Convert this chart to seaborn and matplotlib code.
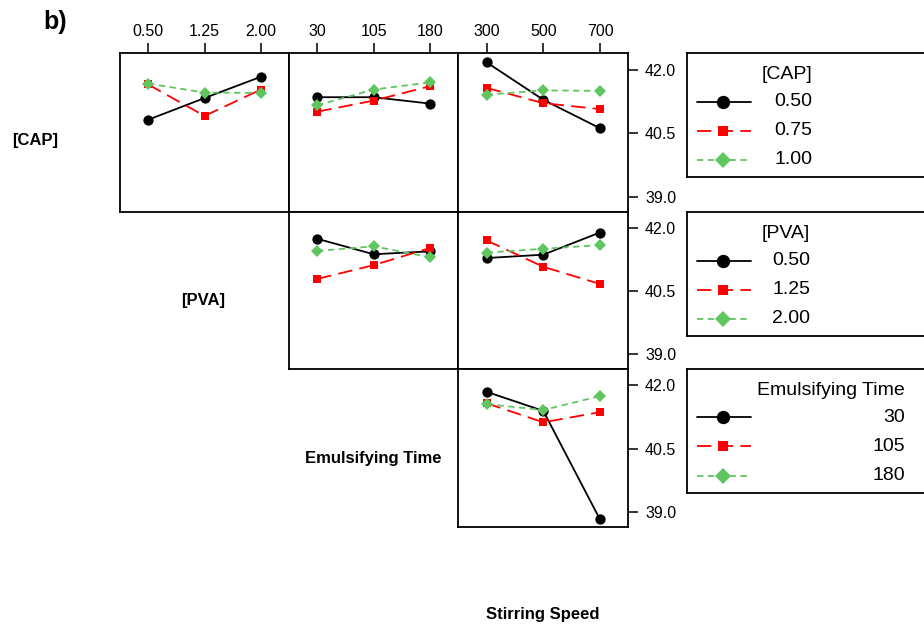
import numpy as np
import pandas as pd
import matplotlib
matplotlib.use("Agg")
import matplotlib.pyplot as plt
from matplotlib.lines import Line2D
import seaborn as sns

# factor levels
cap_levels = ["0.50", "0.75", "1.00"]
pva_levels = ["0.50", "1.25", "2.00"]
time_levels = ["30", "105", "180"]
speed_levels = ["300", "500", "700"]

# mean response: one row per line-factor level, one column per x-factor level
cap_vs_pva = [[40.82, 41.33, 41.83],
              [41.65, 40.91, 41.53],
              [41.67, 41.46, 41.45]]
cap_vs_time = [[41.35, 41.35, 41.20],
               [41.01, 41.27, 41.61],
               [41.16, 41.53, 41.70]]
cap_vs_speed = [[42.17, 41.29, 40.62],
                [41.57, 41.21, 41.07],
                [41.41, 41.51, 41.50]]
pva_vs_time = [[41.75, 41.38, 41.45],
               [40.79, 41.12, 41.53],
               [41.46, 41.57, 41.31]]
pva_vs_speed = [[41.29, 41.37, 41.90],
                [41.71, 41.08, 40.67],
                [41.42, 41.51, 41.60]]
time_vs_speed = [[41.84, 41.39, 38.83],
                 [41.57, 41.12, 41.36],
                 [41.55, 41.41, 41.74]]

y_ticks = [39.0, 40.5, 42.0]

sns.set_theme(style="ticks")
plt.rcParams["font.family"] = ["Liberation Sans", "DejaVu Sans"]
plt.rcParams["text.color"] = "black"
plt.rcParams["xtick.color"] = "black"
plt.rcParams["ytick.color"] = "black"
plt.rcParams["xtick.labelcolor"] = "black"
plt.rcParams["ytick.labelcolor"] = "black"

W, H = 924, 635
fig = plt.figure(figsize=(W / 100, H / 100), dpi=100)


def px_axes(x0, y0, x1, y1):
    return fig.add_axes([x0 / W, 1 - y1 / H, (x1 - x0) / W, (y1 - y0) / H])


colors = ["black", "#ff0000", "#5fc65f"]
markers = ["o", "s", "D"]
styles = ["-", (0, (8, 4)), (0, (3.5, 2.5))]
msizes = [7.4, 6.0, 6.0]
line_w = 1.3
spine_lw = 1.3

col_x = [(120, 289), (289, 458.3), (458.3, 628.3)]
row_y = [(53, 212), (212, 368.5), (368.5, 527)]

panels = [
    (0, 0, cap_levels, pva_levels, cap_vs_pva),
    (0, 1, cap_levels, time_levels, cap_vs_time),
    (0, 2, cap_levels, speed_levels, cap_vs_speed),
    (1, 1, pva_levels, time_levels, pva_vs_time),
    (1, 2, pva_levels, speed_levels, pva_vs_speed),
    (2, 2, time_levels, speed_levels, time_vs_speed),
]

for r, c, hue_lv, x_lv, vals in panels:
    ax = px_axes(col_x[c][0], row_y[r][0], col_x[c][1], row_y[r][1])
    df = pd.DataFrame({
        "x": np.tile(x_lv, len(hue_lv)),
        "hue": np.repeat(hue_lv, len(x_lv)),
        "y": np.ravel(vals),
    })
    sns.pointplot(data=df, x="x", y="y", hue="hue", order=x_lv, hue_order=hue_lv,
                  palette=colors, markers=markers, linestyles=styles,
                  errorbar=None, legend=False, linewidth=line_w,
                  markeredgewidth=0, ax=ax)
    for line, ms in zip(ax.lines, msizes):
        line.set_markersize(ms)

    ax.set_xlim(-0.5, 2.5)
    ax.set_ylim(38.65, 42.39)
    ax.set_xlabel("")
    ax.set_ylabel("")
    for sp in ax.spines.values():
        sp.set_visible(True)
        sp.set_linewidth(spine_lw)
        sp.set_color("black")

    if r == 0:
        ax.xaxis.tick_top()
        ax.tick_params(axis="x", top=True, bottom=False, labeltop=True,
                       labelbottom=False, direction="out", length=7,
                       width=1.1, labelsize=11.5, pad=3)
    else:
        ax.tick_params(axis="x", top=False, bottom=False,
                       labeltop=False, labelbottom=False)

    if c == 2:
        ax.yaxis.tick_right()
        ax.set_yticks(y_ticks)
        ax.set_yticklabels([f"{v:.1f}" for v in y_ticks])
        ax.tick_params(axis="y", right=True, left=False, labelright=True,
                       labelleft=False, direction="out", length=7,
                       width=1.1, labelsize=11.5, pad=5)
    else:
        ax.set_yticks([])

# legends, one box per row
legend_titles = ["[CAP]", "[PVA]", "Emulsifying Time"]
legend_levels = [cap_levels, pva_levels, time_levels]
legend_right = [812, 810, 905]
legend_top = [53.3, 212.3, 369]
box_h = 123.5
entry_y = [48.5, 77.3, 106.5]

for title, levels, right, top in zip(legend_titles, legend_levels, legend_right, legend_top):
    lax = px_axes(687, top, 960, top + box_h)
    lax.set_xlim(0, 273)
    lax.set_ylim(box_h, 0)
    lax.set_xticks([])
    lax.set_yticks([])
    for sp in lax.spines.values():
        sp.set_linewidth(spine_lw)
        sp.set_color("black")
    lax.text(right - 687, 21.5, title, ha="right", va="center", fontsize=14)
    for k, lv in enumerate(levels):
        y = entry_y[k]
        lax.add_line(Line2D([9.7, 63.7], [y, y], color=colors[k],
                            linestyle=styles[k], linewidth=line_w))
        lax.add_line(Line2D([35.7], [y], color=colors[k], marker=markers[k],
                            markersize=msizes[k] * 1.3, markeredgewidth=0,
                            linestyle="none"))
        lax.text(right - 687, y, lv, ha="right", va="center", fontsize=14)

# factor names along the diagonal
fig.text(55 / W, 1 - 22 / H, "b)", fontsize=18, fontweight="bold",
         ha="center", va="center")
diag_labels = [("[CAP]", 35, 141), ("[PVA]", 203, 300),
               ("Emulsifying Time", 373, 459), ("Stirring Speed", 543, 615)]
for txt, x, y in diag_labels:
    fig.text(x / W, 1 - y / H, txt, fontsize=12, fontweight="bold",
             ha="center", va="center")

fig.savefig("out.png", dpi=100)
plt.close(fig)
